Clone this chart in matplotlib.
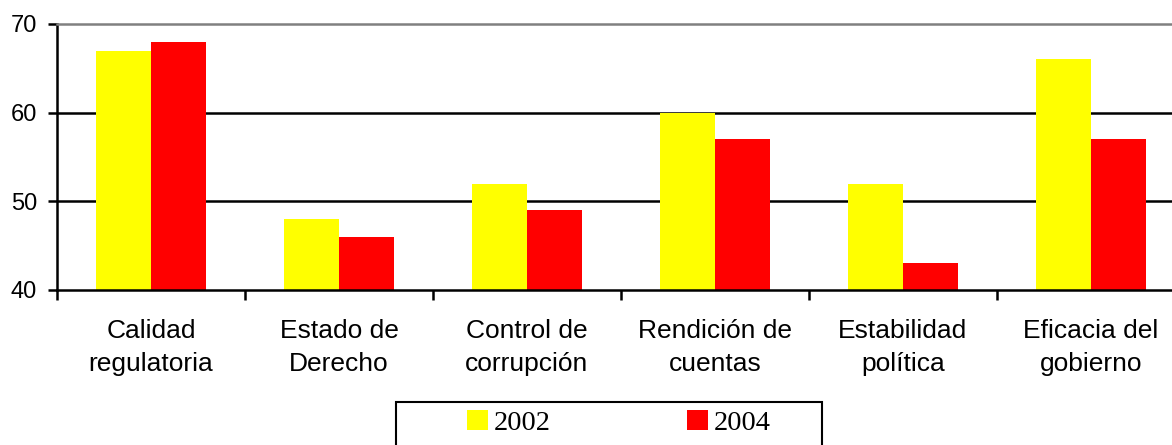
import matplotlib
matplotlib.use("Agg")
import matplotlib.pyplot as plt
import numpy as np
from matplotlib.patches import Rectangle

categories = ["Calidad\nregulatoria", "Estado de\nDerecho", "Control de\ncorrupción",
              "Rendición de\ncuentas", "Estabilidad\npolítica", "Eficacia del\ngobierno"]
series_names = ["2002", "2004"]
values_2002 = [67, 48, 52, 60, 52, 66]
values_2004 = [68, 46, 49, 57, 43, 57]
yticks = [40, 50, 60, 70]

W, H = 1172, 445
fig = plt.figure(figsize=(W / 100, H / 100), dpi=100)
ax = fig.add_axes([57 / W, 1 - 290 / H, 1128 / W, 266 / H])

x = np.arange(len(categories))
bw = 0.295
ax.bar(x - bw / 2, values_2002, width=bw, color="#FFFF00", edgecolor="none", label=series_names[0], zorder=3)
ax.bar(x + bw / 2, values_2004, width=bw, color="#FF0000", edgecolor="none", label=series_names[1], zorder=3)

ax.set_xlim(-0.5, len(categories) - 0.5)
ax.set_ylim(40, 70)
ax.set_yticks(yticks)
ax.set_yticklabels([str(v) for v in yticks], fontsize=17, family="Liberation Sans")
ax.set_xticks(np.arange(len(categories) + 1) - 0.5)
ax.set_xticklabels([])
ax.set_xticks(x, minor=True)
ax.set_xticklabels(categories, minor=True, fontsize=19, family="Liberation Sans", linespacing=1.45)
ax.tick_params(axis="x", which="major", length=7, width=1.8, direction="out", color="black")
ax.tick_params(axis="x", which="minor", length=0, pad=21)
ax.tick_params(axis="y", length=6.5, width=1.8, direction="out", pad=8, color="black")

for v in [50, 60]:
    ax.axhline(v, color="black", linewidth=1.8, zorder=1)

ax.spines["right"].set_visible(False)
ax.spines["top"].set_color("#808080")
ax.spines["top"].set_linewidth(1.8)
ax.spines["left"].set_linewidth(1.8)
ax.spines["bottom"].set_linewidth(1.8)
ax.spines["bottom"].set_zorder(4)

leg = fig.legend(loc="center left", bbox_to_anchor=(467 / W, 1 - 423 / H), ncol=2,
                 frameon=False, borderpad=0, borderaxespad=0,
                 prop={"family": "Liberation Serif", "size": 20.5},
                 handlelength=0.72, handleheight=0.72, handletextpad=0.22,
                 columnspacing=4.8)

fig.patches.append(Rectangle((396 / W, -0.05), (822 - 396) / W, 1 - 402 / H + 0.05,
                             transform=fig.transFigure, facecolor="none",
                             edgecolor="black", linewidth=1.5))

fig.savefig("out.png", dpi=100)
